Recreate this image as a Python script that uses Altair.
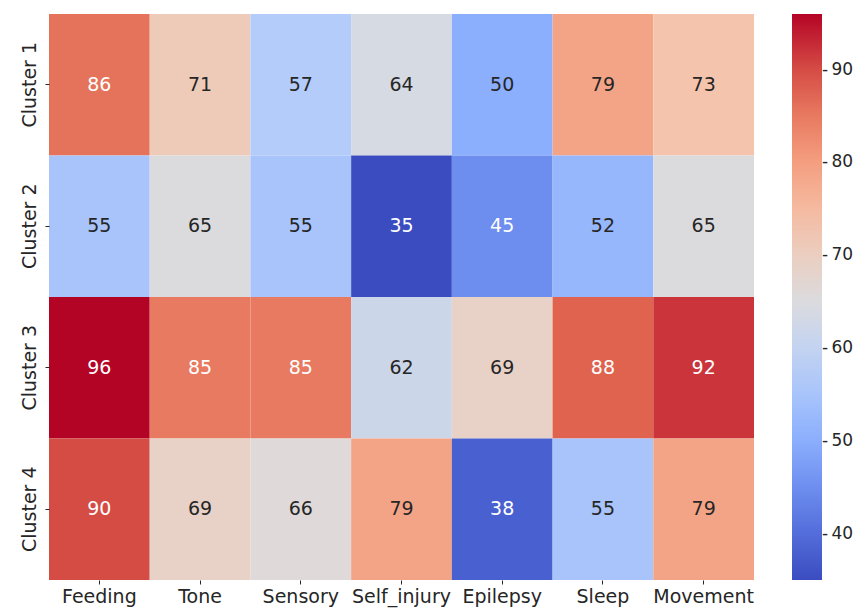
import altair as alt
import pandas as pd

clusters = ["Cluster 1", "Cluster 2", "Cluster 3", "Cluster 4"]
features = ["Feeding", "Tone", "Sensory", "Self_injury", "Epilepsy", "Sleep", "Movement"]
cluster1 = [86, 71, 57, 64, 50, 79, 73]
cluster2 = [55, 65, 55, 35, 45, 52, 65]
cluster3 = [96, 85, 85, 62, 69, 88, 92]
cluster4 = [90, 69, 66, 79, 38, 55, 79]
colorbar_ticks = [40, 50, 60, 70, 80, 90]

coolwarm = ["#3b4cc0", "#5f7fe8", "#8db0fe", "#b9d0f9", "#dddcdc",
            "#f5c4ac", "#f49a7b", "#de604d", "#b40426"]

rows = []
for c, vals in zip(clusters, [cluster1, cluster2, cluster3, cluster4]):
    for f, v in zip(features, vals):
        rows.append({"cluster": c, "feature": f, "value": v})
df = pd.DataFrame(rows)

vmin = df["value"].min()
vmax = df["value"].max()
n = len(coolwarm)
dom = [vmin + (vmax - vmin) * i / (n - 1) for i in range(n)]

FONT = "DejaVu Sans"
TXT = "#262626"

base = alt.Chart(df).encode(
    x=alt.X("feature:N", sort=features, title=None,
            scale=alt.Scale(paddingInner=0, paddingOuter=0),
            axis=alt.Axis(labelAngle=0, labelFontSize=19, labelFont=FONT,
                          labelColor=TXT, domain=False, tickSize=4,
                          tickColor=TXT, labelPadding=3)),
    y=alt.Y("cluster:N", sort=clusters, title=None,
            scale=alt.Scale(paddingInner=0, paddingOuter=0),
            axis=alt.Axis(labelAngle=-90, labelAlign="center", labelBaseline="bottom",
                          labelFontSize=19, labelFont=FONT, labelColor=TXT,
                          domain=False, tickSize=4, tickColor=TXT, labelPadding=6)),
)

rect = base.mark_rect(strokeWidth=0).encode(
    color=alt.Color("value:Q", title=None,
                    scale=alt.Scale(domain=dom, range=coolwarm, interpolate="rgb"),
                    legend=alt.Legend(values=colorbar_ticks, gradientLength=566,
                                      gradientThickness=30, labelFontSize=17,
                                      labelFont=FONT, labelColor=TXT,
                                      labelExpr="'-\u2009' + datum.label",
                                      offset=38, padding=0, gradientStrokeWidth=0,
                                      labelOffset=0, direction="vertical"))
)

text = base.mark_text(fontSize=19, font=FONT).encode(
    text=alt.Text("value:Q"),
    color=alt.condition("datum.value > 82 || datum.value < 48",
                        alt.value("#ffffff"), alt.value(TXT)),
)

chart = alt.layer(rect, text).properties(
    width=705, height=566,
    autosize=alt.AutoSizeParams(type="none"),
    padding={"left": 41, "top": 6, "right": 100, "bottom": 33},
).configure_view(stroke=None)

chart.save("out.html", embed_options={"renderer": "svg", "actions": False})
